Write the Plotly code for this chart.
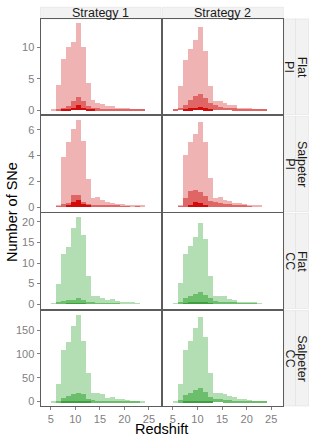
import plotly.graph_objects as go

W, H = 315, 438

# bin centres (redshift, binwidth 1)
z_bins = [5.5, 6.5, 7.5, 8.5, 9.5, 10.5, 11.5, 12.5, 13.5, 14.5,
          15.5, 16.5, 17.5, 18.5, 19.5, 20.5, 21.5, 22.5, 23.5, 24.5]

strategies = ["Strategy 1", "Strategy 2"]
imf_labels = ["Flat", "Salpeter", "Flat", "Salpeter"]
sn_labels = ["PI", "PI", "CC", "CC"]
y_dticks = [5, 2, 5, 50]

# ---- Flat / PI ----
flat_pi_s1_all = [0.2, 4.0, 8.2, 10.0, 10.8, 13.85, 10.0, 4.3, 1.7, 1.1, 1.05, 0.7, 0.6, 0.4, 0.35, 0.3, 0.2, 0.15, 0.1, 0]
flat_pi_s1_mid = [0, 0.1, 0.3, 0.7, 1.5, 2.1, 1.5, 0.6, 0.3, 0.3, 0.25, 0.2, 0.2, 0.15, 0.1, 0.1, 0.1, 0.05, 0.05, 0]
flat_pi_s1_low = [0, 0, 0.1, 0.2, 0.35, 0.9, 0.4, 0.15, 0.1, 0, 0, 0, 0, 0, 0, 0, 0, 0, 0, 0]
flat_pi_s2_all = [0.15, 3.9, 8.0, 9.7, 11.2, 13.3, 9.4, 3.9, 1.5, 1.5, 1.2, 0.8, 0.8, 0.4, 0.4, 0.3, 0.25, 0.15, 0.15, 0]
flat_pi_s2_mid = [0.05, 0.4, 0.8, 1.7, 2.3, 2.6, 2.0, 1.2, 0.8, 0.45, 0.4, 0.35, 0.3, 0.25, 0.2, 0.15, 0.1, 0.1, 0.05, 0]
flat_pi_s2_low = [0, 0, 0.15, 0.3, 0.4, 0.5, 0.3, 0.1, 0, 0, 0, 0, 0, 0, 0, 0, 0, 0, 0, 0]

# ---- Salpeter / PI ----
salp_pi_s1_all = [0, 0.15, 3.9, 5.0, 6.0, 6.7, 5.1, 2.15, 0.7, 0.75, 0.5, 0.35, 0.3, 0.25, 0.2, 0.15, 0.1, 0.12, 0.1, 0]
salp_pi_s1_mid = [0, 0.05, 0.2, 0.3, 0.9, 0.9, 0.4, 0.2, 0.15, 0.15, 0.12, 0.1, 0.1, 0.08, 0.05, 0.05, 0, 0.05, 0, 0]
salp_pi_s1_low = [0, 0, 0, 0.1, 0.35, 0.5, 0.25, 0.1, 0, 0, 0, 0, 0, 0, 0, 0, 0, 0, 0, 0]
salp_pi_s2_all = [0, 0.1, 4.0, 5.0, 5.67, 6.6, 5.0, 2.27, 0.7, 0.75, 0.55, 0.45, 0.3, 0.3, 0.2, 0.15, 0.1, 0.1, 0, 0]
salp_pi_s2_mid = [0, 0.05, 0.7, 1.2, 1.3, 1.15, 0.85, 0.45, 0.35, 0.3, 0.25, 0.2, 0.15, 0.1, 0.1, 0.05, 0, 0, 0, 0]
salp_pi_s2_low = [0, 0, 0, 0.15, 0.35, 0.3, 0.15, 0, 0, 0, 0, 0, 0, 0, 0, 0, 0, 0, 0, 0]

# ---- Flat / CC ----
flat_cc_s1_all = [0.15, 4.8, 12.2, 13.8, 18.5, 21.0, 16.6, 6.8, 2.0, 2.0, 1.45, 1.0, 1.2, 0.65, 0.5, 0.4, 0.25, 0.15, 0, 0]
flat_cc_s1_mid = [0, 0.25, 0.8, 0.95, 1.05, 1.45, 0.9, 0.5, 0.25, 0.2, 0.15, 0.1, 0.1, 0.05, 0, 0, 0, 0, 0, 0]
flat_cc_s1_low = [0, 0, 0, 0.1, 0.15, 0.2, 0.1, 0, 0, 0, 0, 0, 0, 0, 0, 0, 0, 0, 0, 0]
flat_cc_s2_all = [0.1, 5.0, 12.1, 14.0, 16.2, 19.7, 15.8, 6.8, 1.85, 1.85, 1.85, 1.2, 0.9, 0.5, 0.5, 0.4, 0.3, 0.2, 0, 0]
flat_cc_s2_mid = [0, 0.4, 1.45, 2.0, 2.5, 2.8, 2.25, 1.45, 0.65, 0.4, 0.35, 0.3, 0.25, 0.2, 0.15, 0.1, 0.05, 0, 0, 0]
flat_cc_s2_low = [0, 0, 0.1, 0.25, 0.3, 0.4, 0.3, 0.1, 0, 0, 0, 0, 0, 0, 0, 0, 0, 0, 0, 0]

# ---- Salpeter / CC ----
salp_cc_s1_all = [1, 38, 110, 126, 160, 182, 129, 61, 19.4, 18, 16, 9, 11, 7, 5.5, 4, 3, 1.5, 0.8, 0]
salp_cc_s1_mid = [0, 3, 9, 12.5, 17.4, 19.4, 16, 7, 3.5, 3, 2.5, 2, 2.5, 1.5, 1.2, 1, 0.5, 0.3, 0, 0]
salp_cc_s1_low = [0, 0, 0.8, 1.0, 1.5, 1.5, 1.0, 0.5, 0, 0, 0, 0, 0, 0, 0, 0, 0, 0, 0, 0]
salp_cc_s2_all = [0.5, 38, 110, 129, 155, 178, 137, 61, 19, 18, 16, 12.5, 11, 7, 5.5, 4, 3, 1.5, 0.7, 0]
salp_cc_s2_mid = [0, 4, 14, 18, 26, 29, 21, 11, 5.5, 5.5, 4, 3.5, 3, 2.5, 2, 1.5, 1, 0.5, 0.2, 0]
salp_cc_s2_low = [0, 0, 1, 2, 2.5, 2.5, 2, 1, 0, 0, 0, 0, 0, 0, 0, 0, 0, 0, 0, 0]

panels = [
    [(flat_pi_s1_all, flat_pi_s1_mid, flat_pi_s1_low), (flat_pi_s2_all, flat_pi_s2_mid, flat_pi_s2_low)],
    [(salp_pi_s1_all, salp_pi_s1_mid, salp_pi_s1_low), (salp_pi_s2_all, salp_pi_s2_mid, salp_pi_s2_low)],
    [(flat_cc_s1_all, flat_cc_s1_mid, flat_cc_s1_low), (flat_cc_s2_all, flat_cc_s2_mid, flat_cc_s2_low)],
    [(salp_cc_s1_all, salp_cc_s1_mid, salp_cc_s1_low), (salp_cc_s2_all, salp_cc_s2_mid, salp_cc_s2_low)],
]

red_cols = ["#F0B3B3", "#E06565", "#D40A0A"]
green_cols = ["#B3DEB3", "#6CBE6C", "#3D9F3D"]

# layout geometry in pixels
col_px = [(40.5, 161.0), (162.5, 283.3)]
row_px = [(19.0, 115.0), (116.8, 212.5), (214.3, 310.0), (312.0, 407.8)]
x_range = [2.9, 27.45]

def fx(p):
    return p / W

def fy(p):
    return 1 - p / H

FONT = "Liberation Sans, Arial, Helvetica, sans-serif"
fig = go.Figure()
layout = dict(
    width=W, height=H, margin=dict(l=0, r=0, t=0, b=0),
    paper_bgcolor="white", plot_bgcolor="white", showlegend=False,
    barmode="overlay", bargap=0, font=dict(family=FONT),
)
shapes = []
annotations = []
border = "#5C5C5C"
tickfont = dict(family=FONT, size=11, color="#808080")

for r in range(4):
    cols = red_cols if r < 2 else green_cols
    rmax = max(max(panels[r][0][0]), max(panels[r][1][0]))
    yr = [-0.05 * rmax, 1.05 * rmax]
    for c in range(2):
        i = r * 2 + c + 1
        xa = "x" if i == 1 else f"x{i}"
        ya = "y" if i == 1 else f"y{i}"
        for layer, col in zip(panels[r][c], cols):
            fig.add_trace(go.Bar(x=z_bins, y=layer, width=1.0, marker=dict(color=col, line=dict(width=0)),
                                 xaxis=xa, yaxis=ya, hoverinfo="skip"))
        xkey = "xaxis" if i == 1 else f"xaxis{i}"
        ykey = "yaxis" if i == 1 else f"yaxis{i}"
        layout[xkey] = dict(
            domain=[fx(col_px[c][0]), fx(col_px[c][1])], anchor=ya, range=x_range,
            showgrid=False, zeroline=False, showline=True, mirror=True, linecolor=border, linewidth=1,
            tickvals=[5, 10, 15, 20, 25], showticklabels=(r == 3), ticks="outside" if r == 3 else "",
            ticklen=3, tickcolor="#7F7F7F", tickfont=tickfont,
        )
        layout[ykey] = dict(
            domain=[fy(row_px[r][1]), fy(row_px[r][0])], anchor=xa, range=yr,
            showgrid=False, zeroline=False, showline=True, mirror=True, linecolor=border, linewidth=1,
            dtick=y_dticks[r], tick0=0, showticklabels=(c == 0), ticks="outside" if c == 0 else "",
            ticklen=3, tickcolor="#7F7F7F", tickfont=tickfont,
        )

# top strips
for c in range(2):
    shapes.append(dict(type="rect", xref="paper", yref="paper",
                       x0=fx(col_px[c][0]), x1=fx(col_px[c][1]), y0=fy(19.0), y1=fy(7.3),
                       fillcolor="#F2F2F2", line=dict(color="#E0E0E0", width=0.6), layer="below"))
    annotations.append(dict(text=strategies[c], xref="paper", yref="paper",
                            x=fx((col_px[c][0] + col_px[c][1]) / 2), y=fy(13.2),
                            showarrow=False, font=dict(family=FONT, size=12.5, color="#1A1A1A"),
                            xanchor="center", yanchor="middle"))

# right strips
inner = (283.8, 295.5)
outer = (295.5, 308.5)
for r in range(4):
    for (x0, x1), txt in ((inner, sn_labels[r]), (outer, imf_labels[r])):
        shapes.append(dict(type="rect", xref="paper", yref="paper",
                           x0=fx(x0), x1=fx(x1), y0=fy(row_px[r][1]), y1=fy(row_px[r][0]),
                           fillcolor="#F2F2F2", line=dict(color="#E0E0E0", width=0.6), layer="below"))
        annotations.append(dict(text=txt, xref="paper", yref="paper",
                                x=fx((x0 + x1) / 2), y=fy((row_px[r][0] + row_px[r][1]) / 2),
                                textangle=90, showarrow=False,
                                font=dict(family=FONT, size=12.5, color="#1A1A1A"),
                                xanchor="center", yanchor="middle"))

annotations.append(dict(text="Number of SNe", xref="paper", yref="paper",
                        x=fx(12), y=fy(213), textangle=-90, showarrow=False,
                        font=dict(family=FONT, size=14.5, color="black"),
                        xanchor="center", yanchor="middle"))
annotations.append(dict(text="Redshift", xref="paper", yref="paper",
                        x=fx(162), y=fy(430.5), showarrow=False,
                        font=dict(family=FONT, size=14.5, color="black"),
                        xanchor="center", yanchor="middle"))

layout["shapes"] = shapes
layout["annotations"] = annotations
fig.update_layout(**layout)
fig.write_html("out.html", config={"displayModeBar": False},
               post_script="document.body.style.margin='0';document.body.style.padding='0';document.body.style.overflow='hidden';")
